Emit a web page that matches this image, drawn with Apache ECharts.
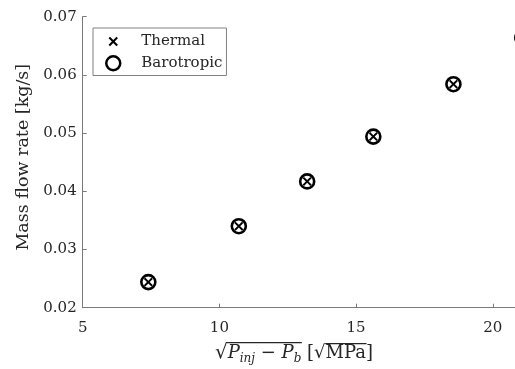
<!DOCTYPE html>
<html><head><meta charset="utf-8">
<script src="https://cdn.jsdelivr.net/npm/echarts@6/dist/echarts.min.js"></script>
<style>html,body{margin:0;padding:0;background:#fff}#c{width:515px;height:369px}</style>
</head><body><div id="c"></div>
<script>
const xValues = [7.40, 10.71, 13.21, 15.63, 18.56, 21.08];
const thermal = [0.0244, 0.0340, 0.0417, 0.0494, 0.0584, 0.0664];
const barotropic = [0.0244, 0.0340, 0.0417, 0.0494, 0.0584, 0.0664];
const seriesNames = ['Thermal', 'Barotropic'];
const yTicks = [0.02, 0.03, 0.04, 0.05, 0.06, 0.07];
const xTicks = [5, 10, 15, 20];

const FONT = 'DejaVu Serif';
const TXT = '#262626';
const AX = '#7a7a7a';
const xPath = 'path://M0,1.5L1.5,0L5,3.5L8.5,0L10,1.5L6.5,5L10,8.5L8.5,10L5,6.5L1.5,10L0,8.5L3.5,5Z';
const xIconPath = 'path://M-2.5,-2.5L-2.49,-2.5L-2.5,-2.49Z M12.5,12.5L12.49,12.5L12.5,12.49Z M0,1.5L1.5,0L5,3.5L8.5,0L10,1.5L6.5,5L10,8.5L8.5,10L5,6.5L1.5,10L0,8.5L3.5,5Z';

// ---- x-axis title built from measured text segments ----
function buildXTitle(centerX, baseY) {
  const cv = document.createElement('canvas').getContext('2d');
  const segs = [
    {t: '√', size: 20, it: false, dy: 0, rad: 1},
    {t: 'P', size: 18, it: true, dy: 0},
    {t: 'inj', size: 12, it: true, dy: 4},
    {t: ' − ', size: 18, it: false, dy: 0},
    {t: 'P', size: 18, it: true, dy: 0},
    {t: 'b', size: 12, it: true, dy: 4, end: 1},
    {t: ' [', size: 18, it: false, dy: 0},
    {t: '√', size: 18, it: false, dy: 0, rad: 2},
    {t: 'MPa', size: 18, it: false, dy: 0, end: 2},
    {t: ']', size: 18, it: false, dy: 0}
  ];
  let total = 0;
  segs.forEach(s => {
    s.font = (s.it ? 'italic ' : '') + s.size + 'px "' + FONT + '"';
    cv.font = s.font;
    cv.textBaseline = 'alphabetic';
    const m1 = cv.measureText(s.t);
    cv.textBaseline = 'middle';
    const m2 = cv.measureText(s.t);
    s.w = m1.width;
    s.asc = m1.actualBoundingBoxAscent;
    s.right = m1.actualBoundingBoxRight;
    s.off = m1.actualBoundingBoxAscent - m2.actualBoundingBoxAscent;
    total += s.w;
  });
  let x = centerX - total / 2;
  const els = [];
  const radStart = {}, radTop = {}, ends = {};
  segs.forEach(s => {
    const b = baseY + s.dy;
    els.push({type: 'text', x: x, y: b - s.off, silent: true,
      style: {text: s.t, font: s.font, fill: TXT, verticalAlign: 'middle', align: 'left'}});
    if (s.rad) { radStart[s.rad] = x + s.right - 0.8; radTop[s.rad] = b - s.asc + 0.6; }
    if (s.end) { ends[s.end] = x + s.w + 0.5; }
    x += s.w;
  });
  [1, 2].forEach(k => {
    els.push({type: 'line', silent: true,
      shape: {x1: radStart[k], y1: radTop[k], x2: ends[k], y2: radTop[k]},
      style: {stroke: TXT, lineWidth: 1.1}});
  });
  return els;
}

const chart = echarts.init(document.getElementById('c'), null, {renderer: 'canvas'});
chart.setOption({
  animation: false,
  backgroundColor: '#fff',
  grid: {left: 82.7, top: 16.7, bottom: 61.3, right: -114.5, containLabel: false, outerBoundsMode: 'none'},
  xAxis: {
    type: 'value', min: 5, max: 25, interval: 5,
    axisLine: {show: true, lineStyle: {color: AX, width: 1}},
    axisTick: {show: true, inside: true, length: 4, lineStyle: {color: AX}},
    axisLabel: {color: TXT, fontFamily: FONT, fontSize: 15, margin: 13,
      formatter: v => xTicks.indexOf(v) >= 0 ? String(v) : ''},
    splitLine: {show: false}
  },
  yAxis: {
    type: 'value', min: 0.02, max: 0.07, interval: 0.01,
    axisLine: {show: true, lineStyle: {color: AX, width: 1}},
    axisTick: {show: true, inside: true, length: 4, lineStyle: {color: AX}},
    axisLabel: {color: TXT, fontFamily: FONT, fontSize: 15, margin: 6,
      formatter: v => { const t = yTicks.find(k => Math.abs(k - v) < 1e-9); return t !== undefined ? t.toFixed(2) : ''; }},
    splitLine: {show: false},
    name: 'Mass flow rate [kg/s]', nameLocation: 'middle', nameGap: 47,
    nameTextStyle: {color: TXT, fontFamily: FONT, fontSize: 17.5, padding: [0, 0, 0, 10]}
  },
  legend: {
    orient: 'vertical', left: 93, top: 28,
    backgroundColor: '#fff', borderColor: '#808080', borderWidth: 1,
    padding: [6, 4, 4, 12], itemGap: 6, itemWidth: 14, itemHeight: 14,
    textStyle: {color: TXT, fontFamily: FONT, fontSize: 15, padding: [0, 0, 0, 16]},
    data: [
      {name: seriesNames[0], icon: xIconPath, itemStyle: {color: '#000', borderWidth: 0}},
      {name: seriesNames[1], icon: 'circle', itemStyle: {color: 'rgba(0,0,0,0)', borderColor: '#000', borderWidth: 2.5}}
    ]
  },
  series: [
    {name: seriesNames[1], type: 'scatter', symbol: 'circle', symbolSize: 14, clip: false,
      itemStyle: {color: 'rgba(0,0,0,0)', borderColor: '#000', borderWidth: 2.6, opacity: 1},
      data: xValues.map((x, i) => [x, barotropic[i]])},
    {name: seriesNames[0], type: 'scatter', symbol: xPath, symbolSize: 9, clip: false,
      itemStyle: {color: '#000', opacity: 1},
      data: xValues.map((x, i) => [x, thermal[i]])}
  ],
  graphic: buildXTitle(294, 358)
});
</script></body></html>
